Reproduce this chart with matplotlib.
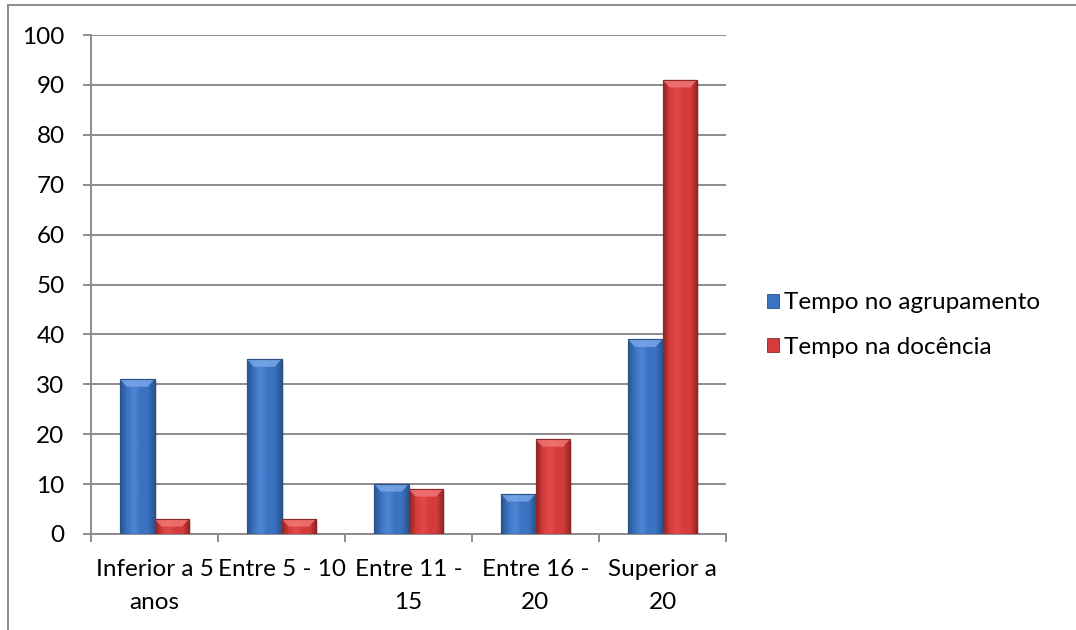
import numpy as np
import matplotlib
matplotlib.use("Agg")
import matplotlib.pyplot as plt
import matplotlib.patheffects as pe
from matplotlib.patches import Polygon, Patch
from matplotlib.lines import Line2D
from matplotlib.colors import LinearSegmentedColormap

# Anos de serviço dos docentes (%)
categories = ["Inferior a 5\nanos", "Entre 5 - 10", "Entre 11 -\n15", "Entre 16 -\n20", "Superior a\n20"]
tempo_agrupamento = [31, 35, 10, 8, 39]
tempo_docencia = [3, 3, 9, 19, 91]
series_names = ["Tempo no agrupamento", "Tempo na docência"]

plt.rcParams["font.family"] = ["Lato", "DejaVu Sans"]
FS = 17.5

GRID = "#8c8c8c"
BLUE = dict(dark="#28558f", mid="#3c72c2", light="#4f87d4", top="#7aaaea", edge="#2c5184")
RED = dict(dark="#902222", mid="#d43c3c", light="#e24a4a", top="#f37878", edge="#8c2828")


def shaded_bars(ax, xs, values, width, pal):
    bars = ax.bar(xs, values, width, color=pal["mid"], edgecolor=pal["edge"],
                  linewidth=0.8, zorder=3)
    cmap = LinearSegmentedColormap.from_list(
        "bar", [pal["dark"], pal["mid"], pal["light"], pal["mid"], pal["mid"], pal["dark"]])
    grad = np.linspace(0, 1, 64)[None, :]
    for b in bars:
        b.set_path_effects([pe.SimplePatchShadow(offset=(1.5, -1.5), alpha=0.15),
                            pe.Normal()])
        x0, y0 = b.get_x(), b.get_y()
        w, h = b.get_width(), b.get_height()
        im = ax.imshow(grad, cmap=cmap, aspect="auto", zorder=3.1,
                       extent=[x0, x0 + w, y0, y0 + h], interpolation="bicubic")
        im.set_clip_path(b)
        # bevelled top face
        bh = min(1.5, h * 0.5)
        inset = w * 0.2
        ax.add_patch(Polygon([(x0, y0 + h), (x0 + w, y0 + h),
                              (x0 + w - inset, y0 + h - bh), (x0 + inset, y0 + h - bh)],
                             closed=True, facecolor=pal["top"], edgecolor="none",
                             alpha=0.8, zorder=3.2))
        ax.add_patch(Polygon([(x0, y0), (x0 + w, y0), (x0 + w, y0 + h), (x0, y0 + h)],
                             closed=True, facecolor="none", edgecolor=pal["edge"],
                             linewidth=0.8, zorder=3.3))
    return bars


fig = plt.figure(figsize=(10.76, 6.3), dpi=100)
ax = fig.add_axes([91 / 1076, 96 / 630, 635 / 1076, 499 / 630])

x = np.arange(len(categories))
w = 0.272
shaded_bars(ax, x - w / 2, tempo_agrupamento, w, BLUE)
shaded_bars(ax, x + w / 2, tempo_docencia, w, RED)

ax.set_xlim(-0.5, len(categories) - 0.5)
ax.set_ylim(0, 100)
ax.set_yticks(np.arange(0, 101, 10))
ax.yaxis.grid(True, color=GRID, linewidth=1.4)
ax.set_axisbelow(True)

ax.set_xticks(x)
ax.set_xticklabels(categories, fontsize=FS, linespacing=1.7)
ax.set_xticks(np.arange(-0.5, len(categories)), minor=True)
ax.tick_params(axis="x", which="major", length=0, pad=18)
ax.tick_params(axis="x", which="minor", length=6, width=1.4, color=GRID, direction="out")
ax.tick_params(axis="y", labelsize=FS, length=6, width=1.4, color=GRID, pad=13)

for side in ("top", "right"):
    ax.spines[side].set_visible(False)
for side in ("left", "bottom"):
    ax.spines[side].set_color(GRID)
    ax.spines[side].set_linewidth(1.4)

handles = [Patch(facecolor=BLUE["mid"], edgecolor=BLUE["edge"], linewidth=0.6),
           Patch(facecolor=RED["mid"], edgecolor=RED["edge"], linewidth=0.6)]
fig.legend(handles, series_names, loc="center left",
           bbox_to_anchor=(767 / 1076, 1 - 325 / 630), frameon=False, fontsize=FS,
           handlelength=0.5, handleheight=0.5, handletextpad=0.2,
           labelspacing=0.95, borderpad=0, borderaxespad=0)

# chart area frame
fig.add_artist(Line2D([8 / 1076, 1], [1 - 5 / 630, 1 - 5 / 630],
                      transform=fig.transFigure, color=GRID, linewidth=1.4))
fig.add_artist(Line2D([8 / 1076, 8 / 1076], [0, 1 - 5 / 630],
                      transform=fig.transFigure, color=GRID, linewidth=1.4))

fig.savefig("out.png", dpi=100)
